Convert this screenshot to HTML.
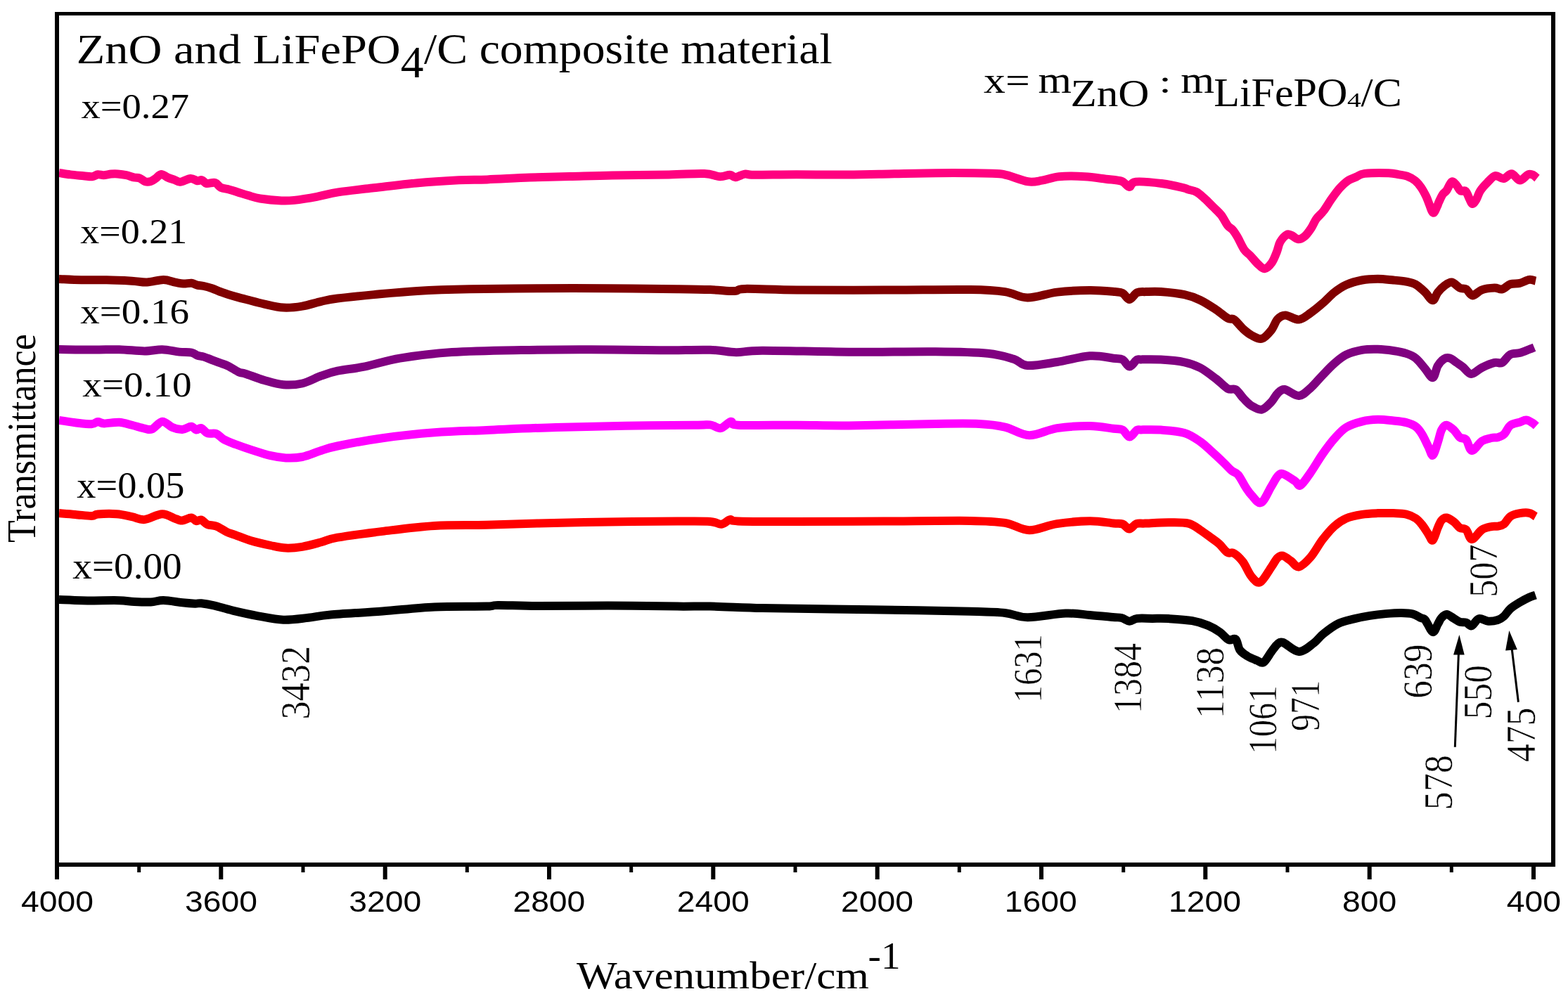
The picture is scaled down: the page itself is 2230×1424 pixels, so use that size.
<!DOCTYPE html>
<html><head><meta charset="utf-8"><title>FTIR spectra</title>
<style>html,body{margin:0;padding:0;background:#fff;}svg{display:block;}</style>
</head><body>
<svg width="2230" height="1424" viewBox="0 0 2230 1424">
<rect width="2230" height="1424" fill="#fff"/>
<path d="M84.0,853.0 C89.3,853.2 107.6,854.0 115.9,854.2 C124.2,854.4 124.8,854.4 133.8,854.4 C142.8,854.4 160.1,853.9 169.7,854.2 C179.3,854.5 183.7,855.6 191.2,856.0 C198.7,856.4 207.6,856.8 214.5,856.5 C221.4,856.2 225.0,853.9 232.5,854.0 C240.0,854.1 251.9,856.5 259.4,857.3 C266.9,858.1 272.8,858.5 277.3,858.7 C281.8,858.9 281.8,857.8 286.3,858.3 C290.8,858.8 296.7,859.7 304.2,861.4 C311.7,863.1 320.6,866.1 331.1,868.6 C341.6,871.1 355.0,874.1 367.0,876.3 C379.0,878.5 390.9,881.3 402.9,881.7 C414.8,882.1 427.5,880.0 438.7,878.8 C449.9,877.6 452.4,876.0 470.0,874.5 C487.6,873.0 519.3,871.4 544.0,869.5 C568.7,867.6 593.3,864.5 618.0,863.4 C642.7,862.2 677.0,863.0 692.0,862.6 C707.0,862.2 695.7,861.0 708.0,860.9 C720.3,860.8 739.9,862.0 766.0,862.1 C792.1,862.2 831.7,861.5 864.6,861.6 C897.5,861.7 939.1,862.4 963.3,862.6 C987.5,862.8 989.9,862.2 1010.0,862.6 C1030.1,863.0 1055.2,864.4 1084.0,865.1 C1112.8,865.8 1145.6,866.1 1182.6,866.6 C1219.6,867.1 1273.1,867.8 1306.0,868.3 C1338.9,868.8 1359.5,869.2 1380.0,869.8 C1400.5,870.4 1415.8,870.6 1429.3,872.0 C1442.8,873.4 1446.9,878.1 1461.3,878.2 C1475.7,878.3 1500.8,873.0 1515.6,872.5 C1530.4,872.0 1538.8,874.1 1550.0,875.0 C1561.2,875.9 1575.1,877.3 1582.6,878.0 C1590.1,878.7 1591.1,878.0 1595.1,879.0 C1599.1,880.0 1602.7,883.6 1606.4,883.8 C1610.1,883.9 1611.7,880.5 1617.1,879.9 C1622.5,879.2 1631.5,879.9 1639.0,879.9 C1646.5,879.9 1652.6,879.5 1662.1,880.1 C1671.5,880.7 1686.3,881.6 1695.7,883.2 C1705.1,884.8 1711.7,887.2 1718.2,889.9 C1724.8,892.6 1730.2,896.0 1735.0,899.4 C1739.8,902.8 1743.6,908.4 1747.3,910.1 C1751.0,911.8 1754.7,907.0 1757.4,909.5 C1760.1,912.0 1760.6,920.8 1763.4,924.8 C1766.2,928.8 1770.2,931.0 1774.2,933.5 C1778.2,936.0 1783.8,938.0 1787.6,939.5 C1791.4,941.0 1793.6,944.3 1797.0,942.3 C1800.4,940.3 1804.7,931.8 1808.0,927.4 C1811.3,923.0 1814.2,918.4 1817.0,916.2 C1819.8,914.0 1819.8,912.2 1824.8,914.0 C1829.8,915.8 1840.0,926.7 1847.3,926.9 C1854.5,927.1 1862.5,919.2 1868.3,915.0 C1874.0,910.8 1876.0,906.5 1881.8,901.9 C1887.6,897.2 1896.0,890.7 1903.3,887.1 C1910.6,883.5 1918.2,882.3 1925.7,880.4 C1933.2,878.5 1940.7,877.1 1948.2,875.9 C1955.7,874.7 1963.1,873.8 1970.6,873.1 C1978.1,872.5 1986.5,871.9 1993.0,872.0 C1999.5,872.1 2005.1,872.4 2009.8,873.6 C2014.5,874.8 2018.2,877.8 2021.0,879.2 C2023.8,880.6 2024.1,878.7 2026.9,882.0 C2029.7,885.3 2034.7,898.0 2037.7,899.0 C2040.7,900.0 2042.8,891.3 2044.8,888.0 C2046.8,884.7 2047.9,881.3 2050.0,879.0 C2052.1,876.7 2054.5,873.9 2057.4,874.0 C2060.3,874.1 2064.2,877.7 2067.3,879.5 C2070.4,881.3 2073.2,883.7 2076.2,884.7 C2079.2,885.7 2082.4,884.7 2085.2,885.6 C2088.0,886.5 2090.0,891.2 2093.0,890.3 C2096.0,889.4 2099.2,881.3 2103.1,880.2 C2107.0,879.1 2112.1,883.5 2116.6,883.8 C2121.1,884.1 2126.3,883.2 2130.0,882.0 C2133.7,880.8 2136.0,879.3 2139.0,876.6 C2142.0,873.9 2144.3,869.2 2148.0,865.9 C2151.7,862.6 2156.9,859.6 2161.4,856.9 C2165.9,854.2 2171.2,851.4 2174.9,849.7 C2178.7,848.0 2182.4,847.1 2183.9,846.6" fill="none" stroke="#000000" stroke-width="12" stroke-linejoin="round" stroke-linecap="butt"/>
<path d="M84.0,730.1 C87.8,730.4 99.2,731.2 106.9,731.9 C114.6,732.5 124.8,734.1 130.2,734.0 C135.6,733.9 133.2,732.0 139.2,731.5 C145.2,731.0 158.0,730.6 166.1,731.2 C174.2,731.8 181.0,733.8 187.6,735.1 C194.2,736.4 198.4,739.8 205.6,739.1 C212.8,738.5 223.2,731.3 230.7,731.2 C238.2,731.1 245.6,736.8 250.4,738.3 C255.2,739.8 255.8,740.8 259.4,740.5 C263.0,740.2 268.6,736.4 271.9,736.5 C275.2,736.6 276.7,740.7 279.1,741.2 C281.5,741.7 283.6,738.8 286.3,739.6 C289.0,740.4 291.6,744.7 295.2,746.2 C298.8,747.7 303.3,746.9 307.8,748.6 C312.3,750.3 317.7,754.5 322.2,756.6 C326.7,758.7 328.7,758.9 334.7,761.1 C340.7,763.3 349.6,767.1 358.0,769.6 C366.4,772.1 376.8,774.3 384.9,776.0 C393.0,777.7 399.0,779.3 406.5,779.6 C414.0,779.9 421.4,779.2 429.8,777.8 C438.2,776.4 448.3,773.5 456.7,771.3 C465.1,769.1 465.4,767.3 480.0,764.7 C494.6,762.1 521.0,758.7 544.0,755.9 C567.0,753.1 593.3,749.5 618.0,748.0 C642.7,746.5 667.3,747.4 692.0,746.8 C716.7,746.2 737.2,745.1 766.0,744.4 C794.8,743.7 831.7,742.9 864.6,742.4 C897.5,741.9 939.1,741.7 963.3,741.6 C987.5,741.5 999.5,741.2 1010.0,741.9 C1020.5,742.6 1021.3,746.2 1026.0,745.8 C1030.7,745.3 1034.5,739.9 1038.4,739.2 C1042.3,738.5 1033.7,740.9 1049.5,741.4 C1065.3,741.9 1098.8,742.1 1133.3,742.1 C1167.8,742.1 1215.5,741.8 1256.6,741.6 C1297.7,741.4 1351.2,740.5 1380.0,740.9 C1408.8,741.3 1415.3,741.7 1429.3,743.9 C1443.3,746.1 1451.5,754.0 1463.8,754.2 C1476.1,754.4 1488.9,747.2 1503.3,745.1 C1517.7,743.0 1536.6,741.4 1550.0,741.3 C1563.4,741.2 1575.8,743.7 1583.6,744.4 C1591.3,745.1 1592.7,744.1 1596.5,745.5 C1600.3,746.9 1603.0,752.6 1606.2,752.6 C1609.5,752.6 1612.3,746.5 1616.0,745.2 C1619.7,743.9 1620.8,744.9 1628.5,744.6 C1636.2,744.3 1651.8,743.3 1662.1,743.3 C1672.4,743.3 1682.6,742.8 1690.1,744.6 C1697.6,746.4 1701.4,750.4 1707.0,754.0 C1712.6,757.6 1719.3,762.8 1723.8,766.0 C1728.2,769.2 1730.0,770.2 1733.7,773.5 C1737.4,776.8 1742.2,783.8 1745.7,786.0 C1749.2,788.2 1751.2,784.8 1754.8,787.0 C1758.4,789.2 1763.4,793.6 1767.6,799.2 C1771.8,804.8 1775.9,815.6 1780.0,820.4 C1784.1,825.2 1787.6,830.5 1792.3,828.2 C1797.0,826.0 1803.9,812.7 1808.0,806.9 C1812.1,801.1 1814.2,796.2 1817.0,793.5 C1819.8,790.8 1821.6,790.0 1824.8,790.7 C1828.0,791.5 1832.2,795.4 1836.0,798.0 C1839.8,800.6 1842.6,807.3 1847.3,806.4 C1852.0,805.5 1858.5,798.8 1864.1,792.4 C1869.7,786.0 1875.3,775.0 1880.9,767.7 C1886.5,760.4 1892.1,753.7 1897.7,748.6 C1903.3,743.5 1908.0,740.2 1914.5,737.4 C1921.0,734.6 1929.5,733.0 1937.0,731.8 C1944.5,730.6 1951.9,730.4 1959.4,730.1 C1966.9,729.8 1975.0,729.9 1981.8,730.1 C1988.6,730.4 1994.7,730.4 2000.0,731.6 C2005.3,732.8 2009.8,734.9 2013.5,737.4 C2017.2,739.9 2019.4,742.7 2022.4,746.4 C2025.4,750.1 2028.9,756.1 2031.4,759.8 C2034.0,763.5 2035.5,770.1 2037.7,768.6 C2039.9,767.1 2042.7,755.6 2044.8,750.9 C2046.9,746.1 2048.1,742.5 2050.2,740.1 C2052.3,737.7 2054.4,736.0 2057.4,736.5 C2060.4,737.0 2065.1,740.4 2068.2,742.8 C2071.3,745.2 2073.4,749.1 2076.2,750.9 C2079.0,752.7 2082.3,750.9 2085.2,753.6 C2088.0,756.3 2089.6,767.2 2093.3,767.2 C2097.0,767.2 2103.0,756.6 2107.6,753.6 C2112.2,750.6 2117.4,749.9 2121.1,749.1 C2124.8,748.3 2127.0,749.2 2130.0,748.6 C2133.0,748.0 2136.0,747.8 2139.0,745.5 C2142.0,743.2 2144.3,737.2 2148.0,734.7 C2151.7,732.2 2156.9,731.0 2161.4,730.2 C2165.9,729.4 2171.2,729.0 2174.9,729.8 C2178.7,730.5 2182.4,733.9 2183.9,734.7" fill="none" stroke="#FF0000" stroke-width="12" stroke-linejoin="round" stroke-linecap="butt"/>
<path d="M84.0,597.9 C87.8,598.5 99.2,600.3 106.9,601.2 C114.6,602.1 124.8,603.5 130.2,603.3 C135.6,603.1 136.2,600.2 139.2,600.1 C142.2,600.0 143.1,602.3 148.2,602.4 C153.3,602.5 163.1,600.4 169.7,600.8 C176.3,601.2 181.6,603.3 187.6,604.8 C193.6,606.3 200.8,608.6 205.6,609.6 C210.4,610.6 212.1,612.1 216.3,610.5 C220.5,608.9 225.9,600.2 230.7,599.7 C235.5,599.2 240.2,605.9 245.0,607.8 C249.8,609.7 254.9,611.1 259.4,610.9 C263.9,610.7 268.6,606.6 271.9,606.7 C275.2,606.8 276.7,611.2 279.1,611.6 C281.5,612.0 283.6,608.3 286.3,609.1 C289.0,609.9 291.6,615.1 295.2,616.4 C298.8,617.7 303.9,615.6 307.8,617.1 C311.7,618.6 314.1,622.7 318.6,625.2 C323.1,627.7 328.1,629.5 334.7,632.0 C341.3,634.5 349.6,637.4 358.0,640.1 C366.4,642.8 376.8,646.3 384.9,648.2 C393.0,650.1 399.0,651.1 406.5,651.4 C414.0,651.7 421.4,651.7 429.8,650.0 C438.2,648.3 448.3,643.6 456.7,641.0 C465.1,638.4 465.4,637.5 480.0,634.5 C494.6,631.5 521.0,626.4 544.0,623.2 C567.0,620.0 593.3,617.2 618.0,615.3 C642.7,613.4 663.2,613.1 692.0,611.9 C720.8,610.7 757.7,608.9 790.6,607.9 C823.5,606.9 856.4,606.2 889.3,605.7 C922.2,605.2 967.9,604.9 988.0,604.7 C1008.1,604.5 1003.9,603.7 1010.0,604.4 C1016.1,605.1 1019.9,609.9 1024.8,609.1 C1029.7,608.3 1035.5,600.4 1039.6,599.7 C1043.7,599.0 1033.9,603.9 1049.5,604.7 C1065.1,605.5 1107.0,604.6 1133.3,604.7 C1159.6,604.8 1174.4,605.7 1207.3,605.4 C1240.2,605.1 1299.8,603.4 1330.6,603.0 C1361.4,602.6 1375.8,602.2 1392.3,603.0 C1408.8,603.8 1417.4,604.9 1429.3,607.6 C1441.2,610.3 1451.5,619.0 1463.8,619.2 C1476.1,619.5 1488.9,611.3 1503.3,609.1 C1517.7,606.9 1536.6,605.9 1550.0,606.0 C1563.4,606.1 1575.8,608.8 1583.6,609.7 C1591.3,610.6 1592.7,609.5 1596.5,611.5 C1600.3,613.5 1603.1,621.4 1606.4,621.5 C1609.7,621.6 1613.8,613.7 1616.5,612.0 C1619.2,610.3 1617.2,611.5 1622.9,611.4 C1628.6,611.3 1640.6,610.9 1650.9,611.6 C1661.2,612.4 1675.2,613.1 1684.5,615.9 C1693.8,618.7 1700.5,623.7 1707.0,628.2 C1713.5,632.7 1718.2,637.8 1723.8,642.8 C1729.4,647.8 1735.9,654.0 1740.6,658.5 C1745.3,663.0 1748.4,666.9 1751.8,669.7 C1755.2,672.5 1757.4,671.3 1760.8,675.3 C1764.2,679.3 1768.8,688.9 1772.0,693.8 C1775.2,698.6 1776.4,700.8 1780.0,704.4 C1783.6,708.0 1788.8,717.1 1793.5,715.1 C1798.2,713.1 1804.1,698.4 1808.0,692.1 C1811.9,685.8 1814.2,680.5 1817.0,677.5 C1819.8,674.5 1820.7,673.1 1824.8,674.2 C1828.9,675.3 1837.6,681.6 1841.7,684.3 C1845.8,687.0 1845.8,692.4 1849.5,690.4 C1853.2,688.4 1858.9,679.4 1864.1,672.0 C1869.3,664.6 1875.3,654.0 1880.9,646.0 C1886.5,638.0 1892.1,630.3 1897.7,624.0 C1903.3,617.7 1908.0,612.1 1914.5,608.0 C1921.0,603.9 1929.5,601.5 1937.0,599.6 C1944.5,597.7 1951.9,597.0 1959.4,596.8 C1966.9,596.6 1975.0,597.8 1981.8,598.5 C1988.6,599.2 1994.7,599.7 2000.0,601.1 C2005.3,602.5 2009.8,604.1 2013.5,606.9 C2017.2,609.7 2019.4,612.9 2022.4,617.7 C2025.4,622.5 2028.9,630.6 2031.4,635.6 C2034.0,640.6 2035.5,648.7 2037.7,647.6 C2039.9,646.5 2042.7,635.3 2044.8,629.3 C2046.9,623.3 2048.1,615.5 2050.2,611.4 C2052.3,607.3 2054.4,604.6 2057.4,604.7 C2060.4,604.9 2065.1,609.4 2068.2,612.3 C2071.3,615.2 2073.4,620.0 2076.2,622.2 C2079.0,624.4 2082.3,622.6 2085.2,625.7 C2088.0,628.8 2089.6,640.7 2093.3,641.0 C2097.0,641.3 2103.0,630.5 2107.6,627.5 C2112.2,624.5 2117.4,623.9 2121.1,623.0 C2124.8,622.1 2127.0,623.1 2130.0,622.2 C2133.0,621.3 2136.0,620.6 2139.0,617.7 C2142.0,614.9 2144.3,608.0 2148.0,605.1 C2151.7,602.2 2157.7,601.9 2161.4,600.6 C2165.1,599.3 2167.4,597.4 2170.4,597.5 C2173.4,597.6 2177.0,600.1 2179.4,601.5 C2181.8,602.9 2183.9,605.2 2184.8,606.0" fill="none" stroke="#FF00FF" stroke-width="12" stroke-linejoin="round" stroke-linecap="butt"/>
<path d="M84.0,497.0 C92.3,497.1 119.5,497.6 133.8,497.6 C148.1,497.6 157.7,496.9 169.7,497.2 C181.7,497.5 195.4,499.4 205.6,499.4 C215.8,499.4 222.5,497.0 230.7,497.2 C238.9,497.4 248.0,499.9 254.9,500.6 C261.9,501.3 268.1,500.8 272.4,501.6 C276.7,502.4 277.6,504.6 280.5,505.6 C283.4,506.6 286.4,506.5 289.9,507.6 C293.4,508.7 297.6,510.6 301.5,512.1 C305.4,513.6 309.3,515.0 313.2,516.4 C317.1,517.8 320.3,518.6 324.8,520.8 C329.3,523.0 335.9,527.7 340.0,529.5 C344.1,531.3 343.1,529.8 349.1,531.7 C355.1,533.6 367.0,538.4 376.0,541.0 C385.0,543.6 393.9,546.5 402.9,547.3 C411.9,548.0 420.8,547.6 429.8,545.5 C438.8,543.4 448.3,537.7 456.7,534.7 C465.1,531.7 469.6,529.9 480.0,527.7 C490.4,525.5 504.5,524.4 519.3,521.4 C534.1,518.4 548.2,513.0 568.7,509.6 C589.2,506.2 613.8,502.9 642.6,501.0 C671.4,499.1 708.4,498.6 741.3,498.0 C774.2,497.4 807.1,497.2 840.0,497.3 C872.9,497.4 910.3,498.2 938.6,498.3 C966.9,498.4 991.9,497.3 1010.0,497.8 C1028.1,498.3 1034.7,501.1 1047.0,501.2 C1059.3,501.3 1057.3,498.8 1084.0,498.7 C1110.7,498.6 1166.2,500.4 1207.3,500.7 C1248.4,500.9 1297.7,499.9 1330.6,500.2 C1363.5,500.5 1386.1,500.9 1404.6,502.7 C1423.1,504.5 1432.1,507.9 1441.6,510.8 C1451.0,513.7 1451.0,519.3 1461.3,520.0 C1471.6,520.7 1488.5,517.3 1503.3,515.0 C1518.1,512.7 1536.6,507.2 1550.0,506.3 C1563.4,505.4 1575.8,508.8 1583.6,509.7 C1591.3,510.6 1592.7,509.5 1596.5,511.5 C1600.3,513.5 1603.1,521.4 1606.4,521.5 C1609.7,521.6 1613.8,513.7 1616.5,512.0 C1619.2,510.3 1617.2,511.5 1622.9,511.4 C1628.6,511.3 1640.6,511.0 1650.9,511.6 C1661.2,512.2 1675.2,513.4 1684.5,515.3 C1693.8,517.2 1699.5,519.3 1707.0,523.2 C1714.5,527.1 1722.9,534.0 1729.4,538.9 C1735.9,543.8 1741.5,550.3 1746.2,552.9 C1750.9,555.5 1753.7,551.9 1757.4,554.2 C1761.1,556.5 1764.8,563.0 1768.6,566.9 C1772.4,570.8 1775.7,574.7 1780.0,577.3 C1784.3,579.9 1789.9,583.5 1794.6,582.6 C1799.3,581.7 1804.3,575.7 1808.0,571.9 C1811.7,568.1 1813.8,562.6 1817.0,559.6 C1820.2,556.6 1822.0,553.4 1827.1,554.0 C1832.1,554.6 1841.1,563.4 1847.3,563.0 C1853.5,562.6 1858.5,556.6 1864.1,551.7 C1869.7,546.8 1875.3,539.6 1880.9,533.8 C1886.5,528.0 1892.1,521.9 1897.7,517.0 C1903.3,512.1 1908.0,507.9 1914.5,504.7 C1921.0,501.5 1929.5,499.2 1937.0,497.9 C1944.5,496.6 1951.9,496.6 1959.4,496.8 C1966.9,497.0 1975.0,498.0 1981.8,499.0 C1988.6,500.0 1994.7,501.1 2000.0,502.9 C2005.3,504.7 2009.0,506.0 2013.5,509.6 C2018.0,513.2 2022.9,520.2 2026.9,524.8 C2030.9,529.4 2034.7,537.9 2037.7,537.2 C2040.7,536.5 2042.1,524.9 2044.8,520.4 C2047.5,515.9 2051.0,512.3 2053.8,510.5 C2056.7,508.7 2058.9,508.7 2061.9,509.6 C2064.9,510.5 2068.6,513.8 2071.7,515.9 C2074.8,518.0 2077.2,519.5 2080.7,522.2 C2084.1,524.9 2087.9,531.9 2092.4,532.0 C2096.9,532.1 2102.1,525.7 2107.6,523.0 C2113.1,520.3 2120.8,517.1 2125.6,515.9 C2130.4,514.7 2132.6,517.9 2136.3,515.9 C2140.0,513.9 2143.8,506.5 2148.0,504.2 C2152.2,501.9 2156.9,503.2 2161.4,502.0 C2165.9,500.8 2171.5,498.3 2174.9,497.0 C2178.3,495.7 2180.8,494.8 2182.0,494.3" fill="none" stroke="#800080" stroke-width="12" stroke-linejoin="round" stroke-linecap="butt"/>
<path d="M84.0,397.0 C89.3,397.2 104.6,398.1 115.9,398.3 C127.2,398.5 139.8,398.1 151.7,398.3 C163.6,398.5 178.0,399.2 187.6,399.7 C197.2,400.2 201.6,401.8 209.1,401.5 C216.6,401.2 225.8,398.0 232.5,398.0 C239.2,398.0 244.3,400.7 249.0,401.6 C253.7,402.5 256.8,403.4 260.7,403.6 C264.6,403.8 269.1,402.4 272.4,402.7 C275.7,403.0 277.6,404.9 280.5,405.6 C283.4,406.3 286.4,406.2 289.9,407.0 C293.4,407.8 297.6,409.0 301.5,410.3 C305.4,411.6 309.3,413.6 313.2,415.0 C317.1,416.4 320.3,417.6 324.8,419.0 C329.3,420.4 335.9,422.3 340.0,423.4 C344.1,424.5 343.1,424.2 349.1,425.7 C355.1,427.2 367.0,430.6 376.0,432.6 C385.0,434.6 393.9,437.1 402.9,437.6 C411.9,438.1 420.8,437.1 429.8,435.6 C438.8,434.1 448.3,430.7 456.7,428.8 C465.1,426.9 467.5,426.1 480.0,424.5 C492.5,422.9 512.8,420.9 531.7,419.1 C550.6,417.3 570.7,415.2 593.3,413.9 C615.9,412.6 638.5,411.8 667.3,411.2 C696.1,410.6 733.1,410.4 766.0,410.2 C798.9,410.0 831.7,410.0 864.6,410.2 C897.5,410.4 939.1,410.9 963.3,411.2 C987.5,411.5 996.5,411.6 1010.0,412.1 C1023.5,412.6 1036.3,414.3 1044.5,414.1 C1052.7,413.9 1044.5,411.2 1059.3,410.9 C1074.1,410.6 1100.4,412.1 1133.3,412.4 C1166.2,412.7 1215.5,412.7 1256.6,412.6 C1297.7,412.6 1351.2,411.7 1380.0,412.1 C1408.8,412.5 1415.8,413.2 1429.3,415.1 C1442.8,417.0 1449.0,423.4 1461.3,423.5 C1473.6,423.6 1488.5,417.4 1503.3,415.6 C1518.1,413.9 1536.3,413.1 1550.0,413.0 C1563.7,412.9 1577.9,414.4 1585.7,415.1 C1593.5,415.8 1593.2,415.3 1596.7,417.1 C1600.2,418.9 1603.0,426.1 1606.4,426.0 C1609.8,425.9 1613.2,418.1 1617.1,416.3 C1621.0,414.5 1624.0,415.3 1629.6,415.1 C1635.2,414.9 1641.8,414.3 1650.9,415.0 C1660.1,415.7 1675.2,417.2 1684.5,419.2 C1693.8,421.2 1699.5,423.4 1707.0,427.0 C1714.5,430.6 1722.9,436.2 1729.4,440.5 C1735.9,444.8 1741.9,450.4 1746.2,452.8 C1750.5,455.2 1751.5,452.1 1755.2,454.7 C1758.9,457.3 1764.5,464.8 1768.6,468.5 C1772.7,472.2 1775.7,474.8 1780.0,477.0 C1784.3,479.2 1789.9,483.0 1794.6,481.8 C1799.3,480.6 1804.3,474.3 1808.0,469.7 C1811.7,465.1 1813.6,457.6 1817.0,454.0 C1820.4,450.4 1823.2,448.3 1828.2,448.4 C1833.2,448.5 1841.3,455.2 1847.3,454.6 C1853.3,454.0 1858.5,448.8 1864.1,445.0 C1869.7,441.2 1875.3,436.5 1880.9,431.6 C1886.5,426.8 1892.1,420.3 1897.7,415.9 C1903.3,411.5 1908.0,408.1 1914.5,405.2 C1921.0,402.3 1929.5,399.9 1937.0,398.5 C1944.5,397.1 1951.9,396.8 1959.4,396.8 C1966.9,396.8 1975.0,397.9 1981.8,398.5 C1988.6,399.1 1994.7,399.6 2000.0,400.6 C2005.3,401.6 2009.0,402.1 2013.5,404.7 C2018.0,407.2 2022.9,412.1 2026.9,415.9 C2030.9,419.7 2034.7,427.3 2037.7,427.3 C2040.7,427.3 2042.1,419.3 2044.8,415.9 C2047.5,412.5 2050.5,409.3 2053.8,406.9 C2057.1,404.5 2060.9,401.1 2064.6,401.5 C2068.3,401.9 2072.8,408.0 2076.2,409.6 C2079.6,411.2 2082.2,409.6 2085.2,411.4 C2088.2,413.2 2090.5,420.2 2094.2,420.4 C2097.9,420.5 2102.4,414.1 2107.6,412.3 C2112.8,410.5 2120.8,409.8 2125.6,409.6 C2130.4,409.5 2132.6,412.3 2136.3,411.4 C2140.0,410.5 2143.8,405.6 2148.0,404.2 C2152.2,402.8 2156.9,403.9 2161.4,402.9 C2165.9,401.8 2171.1,398.4 2174.9,397.9 C2178.7,397.4 2182.5,399.4 2184.0,399.7" fill="none" stroke="#800000" stroke-width="12" stroke-linejoin="round" stroke-linecap="butt"/>
<path d="M84.0,245.9 C86.7,246.3 94.4,247.7 100.2,248.4 C106.0,249.1 113.8,249.7 119.0,250.2 C124.2,250.7 127.7,251.5 131.1,251.2 C134.5,250.9 136.5,248.6 139.2,248.3 C141.9,248.0 144.2,249.3 147.3,249.2 C150.4,249.1 154.7,247.9 158.0,247.6 C161.3,247.3 163.8,247.2 167.4,247.5 C171.0,247.8 175.8,248.4 179.6,249.2 C183.4,250.0 187.2,251.6 190.3,252.3 C193.4,253.0 195.7,252.3 198.4,253.3 C201.1,254.3 203.8,257.4 206.5,258.2 C209.2,259.0 212.0,258.7 214.5,258.0 C217.0,257.3 218.8,255.6 221.3,253.9 C223.8,252.2 226.4,248.1 229.3,247.9 C232.2,247.7 235.7,251.3 238.8,252.6 C242.0,253.9 245.3,254.9 248.2,255.9 C251.1,256.9 252.4,259.1 256.2,258.8 C260.0,258.5 266.9,254.2 271.0,253.9 C275.1,253.6 277.8,256.8 280.5,257.2 C283.2,257.6 285.0,255.6 287.2,256.2 C289.4,256.8 290.8,260.4 293.9,261.0 C297.0,261.6 302.6,259.1 306.0,260.0 C309.4,260.9 310.6,265.1 314.0,266.7 C317.4,268.3 322.1,268.6 326.2,269.7 C330.2,270.8 333.8,272.0 338.3,273.4 C342.8,274.8 347.8,276.6 353.1,278.1 C358.4,279.6 362.1,281.3 370.0,282.5 C377.9,283.7 392.2,285.1 400.3,285.5 C408.4,285.9 410.0,285.8 418.4,284.9 C426.8,283.9 440.3,281.7 450.7,279.8 C461.1,277.9 467.6,275.5 481.0,273.4 C494.4,271.3 512.9,269.4 531.4,267.3 C549.9,265.2 571.8,262.4 592.0,260.5 C612.2,258.6 635.7,257.1 652.5,256.2 C669.3,255.3 676.0,256.0 692.8,255.4 C709.6,254.8 733.9,253.3 753.4,252.6 C772.9,251.9 790.5,251.5 810.0,251.0 C829.5,250.5 847.0,249.8 870.5,249.4 C894.0,249.0 929.3,248.8 951.2,248.4 C973.1,248.0 989.6,246.5 1001.7,247.0 C1013.8,247.5 1017.9,250.9 1023.9,251.2 C1030.0,251.5 1034.3,248.6 1038.0,248.8 C1041.7,249.0 1042.5,252.4 1046.0,252.2 C1049.5,252.0 1054.8,248.2 1059.2,247.6 C1063.6,247.0 1060.0,248.7 1072.3,248.8 C1084.6,248.9 1112.6,248.2 1132.8,248.2 C1153.0,248.2 1173.9,248.7 1193.4,248.6 C1212.9,248.5 1227.1,248.2 1250.0,247.8 C1272.9,247.4 1303.8,246.4 1330.7,246.2 C1357.6,246.0 1394.6,246.3 1411.4,246.8 C1428.2,247.3 1423.2,247.3 1431.6,249.2 C1440.0,251.1 1453.5,257.1 1461.9,258.3 C1470.3,259.6 1474.6,257.9 1482.0,256.7 C1489.4,255.5 1496.2,252.1 1506.3,251.2 C1516.4,250.3 1531.5,250.6 1542.6,251.2 C1553.7,251.8 1564.0,253.6 1572.8,254.7 C1581.5,255.8 1589.5,255.9 1595.1,257.8 C1600.6,259.7 1602.8,265.9 1606.1,266.0 C1609.4,266.1 1607.3,259.4 1615.2,258.6 C1623.1,257.8 1642.2,259.8 1653.6,261.3 C1665.0,262.8 1677.7,266.0 1683.8,267.4 C1689.9,268.8 1687.0,268.7 1690.0,269.6 C1693.0,270.6 1697.8,271.0 1701.7,273.1 C1705.6,275.2 1709.4,279.0 1713.3,282.5 C1717.2,286.0 1721.1,290.2 1725.0,294.1 C1728.9,298.0 1733.1,301.3 1736.6,305.8 C1740.1,310.3 1743.3,317.4 1746.0,320.9 C1748.7,324.4 1750.7,324.1 1753.0,326.8 C1755.3,329.5 1757.3,332.6 1760.0,337.3 C1762.7,342.0 1766.2,350.3 1769.3,354.8 C1772.4,359.3 1775.3,360.6 1778.6,364.1 C1781.9,367.6 1785.8,372.7 1789.1,375.7 C1792.4,378.7 1795.1,382.6 1798.4,382.2 C1801.7,381.8 1806.0,377.4 1808.9,373.4 C1811.8,369.4 1814.0,363.0 1815.9,358.2 C1817.9,353.4 1818.2,348.4 1820.6,344.3 C1822.9,340.2 1827.3,335.4 1830.0,333.8 C1832.7,332.2 1834.2,333.8 1836.9,334.9 C1839.6,336.0 1843.1,340.0 1846.2,340.2 C1849.3,340.4 1852.5,338.7 1855.6,336.1 C1858.7,333.5 1862.2,328.5 1864.9,324.4 C1867.6,320.3 1869.0,315.7 1871.9,311.6 C1874.8,307.5 1878.7,304.9 1882.4,300.0 C1886.1,295.1 1890.1,287.9 1894.0,282.5 C1897.9,277.1 1901.8,271.6 1905.7,267.3 C1909.6,263.0 1913.5,259.4 1917.4,256.8 C1921.3,254.2 1925.1,253.2 1929.0,251.6 C1932.9,249.9 1933.0,247.8 1940.7,246.9 C1948.4,246.0 1966.8,245.9 1975.0,246.2 C1983.2,246.4 1985.6,247.7 1990.0,248.4 C1994.4,249.1 1997.5,249.2 2001.2,250.6 C2005.0,252.0 2009.2,254.3 2012.5,256.9 C2015.8,259.5 2018.3,262.7 2020.9,266.4 C2023.5,270.1 2026.2,275.3 2028.2,279.3 C2030.2,283.3 2031.0,286.7 2032.7,290.6 C2034.4,294.5 2036.4,302.3 2038.3,302.8 C2040.2,303.3 2042.6,295.9 2043.9,293.4 C2045.2,290.9 2044.9,290.6 2046.2,287.8 C2047.5,285.0 2049.9,279.3 2051.8,276.5 C2053.7,273.7 2055.2,273.9 2057.4,270.9 C2059.6,267.9 2062.3,259.7 2064.7,258.5 C2067.0,257.3 2069.4,261.4 2071.5,263.6 C2073.6,265.8 2074.9,270.1 2077.1,271.5 C2079.2,272.9 2082.2,270.0 2084.4,272.0 C2086.6,274.0 2088.4,280.3 2090.0,283.3 C2091.6,286.3 2092.4,289.9 2094.0,290.0 C2095.6,290.1 2097.7,286.9 2099.6,283.8 C2101.5,280.7 2102.6,275.5 2105.2,271.5 C2107.8,267.5 2111.4,263.6 2115.0,260.0 C2118.6,256.4 2122.6,251.0 2126.5,250.0 C2130.4,249.0 2134.3,254.6 2138.2,254.1 C2142.1,253.6 2146.0,246.8 2149.9,247.2 C2153.8,247.6 2157.6,256.3 2161.5,256.5 C2165.4,256.7 2170.0,249.6 2173.2,248.3 C2176.4,247.1 2178.4,248.1 2180.5,249.0 C2182.6,249.9 2185.1,252.8 2186.0,253.5" fill="none" stroke="#FF0080" stroke-width="12" stroke-linejoin="round" stroke-linecap="butt"/>
<rect x="78" y="17" width="6" height="1234" fill="#000"/>
<rect x="2206" y="17" width="6" height="1216" fill="#000"/>
<rect x="78" y="17" width="2134" height="5" fill="#000"/>
<rect x="78" y="1227" width="2134" height="6" fill="#000"/>
<rect x="311.3" y="1233" width="6" height="18" fill="#000"/>
<rect x="544.7" y="1233" width="6" height="18" fill="#000"/>
<rect x="778.0" y="1233" width="6" height="18" fill="#000"/>
<rect x="1011.3" y="1233" width="6" height="18" fill="#000"/>
<rect x="1244.7" y="1233" width="6" height="18" fill="#000"/>
<rect x="1478.0" y="1233" width="6" height="18" fill="#000"/>
<rect x="1711.3" y="1233" width="6" height="18" fill="#000"/>
<rect x="1944.7" y="1233" width="6" height="18" fill="#000"/>
<rect x="2178.0" y="1233" width="6" height="18" fill="#000"/>
<rect x="195.2" y="1233" width="5" height="8" fill="#000"/>
<rect x="428.5" y="1233" width="5" height="8" fill="#000"/>
<rect x="661.8" y="1233" width="5" height="8" fill="#000"/>
<rect x="895.2" y="1233" width="5" height="8" fill="#000"/>
<rect x="1128.5" y="1233" width="5" height="8" fill="#000"/>
<rect x="1361.8" y="1233" width="5" height="8" fill="#000"/>
<rect x="1595.2" y="1233" width="5" height="8" fill="#000"/>
<rect x="1828.5" y="1233" width="5" height="8" fill="#000"/>
<rect x="2061.8" y="1233" width="5" height="8" fill="#000"/>
<line x1="2069.3" y1="1062.8" x2="2074.6" y2="925" stroke="#000" stroke-width="3"/>
<polygon points="2075.4,903.1 2067.1,931.6 2082.7,931.6" fill="#000"/>
<line x1="2159.4" y1="998.7" x2="2149.8" y2="920" stroke="#000" stroke-width="3"/>
<polygon points="2146.3,896.9 2141.1,925.5 2157.8,924" fill="#000"/>
<text transform="matrix(0.6642 0 0 0.5915 108.68 89.62)" font-family="'Liberation Serif', 'Times New Roman', serif" font-size="100">ZnO and LiFePO</text>
<text transform="matrix(0.6543 0 0 0.6308 569.69 109.80)" font-family="'Liberation Serif', 'Times New Roman', serif" font-size="100">4</text>
<text transform="matrix(0.6577 0 0 0.6100 603.10 89.79)" font-family="'Liberation Serif', 'Times New Roman', serif" font-size="100">/C composite material</text>
<text transform="matrix(0.6168 0 0 0.5239 1399.08 132.30)" font-family="'Liberation Serif', 'Times New Roman', serif" font-size="100">x=</text>
<text transform="matrix(0.6095 0 0 0.5511 1476.38 132.30)" font-family="'Liberation Serif', 'Times New Roman', serif" font-size="100">m</text>
<text transform="matrix(0.6115 0 0 0.5537 1522.44 151.19)" font-family="'Liberation Serif', 'Times New Roman', serif" font-size="100">ZnO</text>
<text transform="matrix(0.6333 0 0 0.4542 1648.33 132.35)" font-family="'Liberation Serif', 'Times New Roman', serif" font-size="100">:</text>
<text transform="matrix(0.6149 0 0 0.5426 1679.17 132.00)" font-family="'Liberation Serif', 'Times New Roman', serif" font-size="100">m</text>
<text transform="matrix(0.6006 0 0 0.5731 1726.20 151.25)" font-family="'Liberation Serif', 'Times New Roman', serif" font-size="100">LiFePO</text>
<text transform="matrix(0.3935 0 0 0.2846 1916.01 151.70)" font-family="'Liberation Serif', 'Times New Roman', serif" font-size="100">4</text>
<text transform="matrix(0.6157 0 0 0.5731 1935.60 151.25)" font-family="'Liberation Serif', 'Times New Roman', serif" font-size="100">/C</text>
<text transform="matrix(0.5457 0 0 0.5104 115.45 168.28)" font-family="'Liberation Serif', 'Times New Roman', serif" font-size="100">x=0.27</text>
<text transform="matrix(0.5401 0 0 0.5015 114.26 346.10)" font-family="'Liberation Serif', 'Times New Roman', serif" font-size="100">x=0.21</text>
<text transform="matrix(0.5505 0 0 0.5044 114.25 460.19)" font-family="'Liberation Serif', 'Times New Roman', serif" font-size="100">x=0.16</text>
<text transform="matrix(0.5523 0 0 0.5029 117.35 564.19)" font-family="'Liberation Serif', 'Times New Roman', serif" font-size="100">x=0.10</text>
<text transform="matrix(0.5437 0 0 0.5224 109.36 707.86)" font-family="'Liberation Serif', 'Times New Roman', serif" font-size="100">x=0.05</text>
<text transform="matrix(0.5527 0 0 0.5224 103.25 822.86)" font-family="'Liberation Serif', 'Times New Roman', serif" font-size="100">x=0.00</text>
<text transform="matrix(0 -0.5222 0.5742 0 50.33 771.94)" font-family="'Liberation Serif', 'Times New Roman', serif" font-size="100">Transmittance</text>
<text transform="matrix(0.6113 0 0 0.5521 819.90 1405.90)" font-family="'Liberation Serif', 'Times New Roman', serif" font-size="100">Wavenumber/cm</text>
<text transform="matrix(0.5521 0 0 0.5561 1234.59 1378.40)" font-family="'Liberation Serif', 'Times New Roman', serif" font-size="100">-1</text>
<text transform="matrix(0 -0.5243 0.5955 0 439.50 1023.62)" font-family="'Liberation Serif', 'Times New Roman', serif" font-size="100" stroke="#fff" stroke-width="1.0">3432</text>
<text transform="matrix(0 -0.4865 0.5779 0 1480.94 999.38)" font-family="'Liberation Serif', 'Times New Roman', serif" font-size="100" stroke="#fff" stroke-width="1.0">1631</text>
<text transform="matrix(0 -0.5016 0.5794 0 1622.94 1015.11)" font-family="'Liberation Serif', 'Times New Roman', serif" font-size="100" stroke="#fff" stroke-width="1.0">1384</text>
<text transform="matrix(0 -0.5158 0.5706 0 1739.76 1021.94)" font-family="'Liberation Serif', 'Times New Roman', serif" font-size="100" stroke="#fff" stroke-width="1.0">1138</text>
<text transform="matrix(0 -0.4859 0.5750 0 1814.95 1072.47)" font-family="'Liberation Serif', 'Times New Roman', serif" font-size="100" stroke="#fff" stroke-width="1.0">1061</text>
<text transform="matrix(0 -0.4809 0.5836 0 1876.42 1040.04)" font-family="'Liberation Serif', 'Times New Roman', serif" font-size="100" stroke="#fff" stroke-width="1.0">971</text>
<text transform="matrix(0 -0.5162 0.5910 0 2036.12 993.86)" font-family="'Liberation Serif', 'Times New Roman', serif" font-size="100" stroke="#fff" stroke-width="1.0">639</text>
<text transform="matrix(0 -0.5214 0.5746 0 2065.25 1152.13)" font-family="'Liberation Serif', 'Times New Roman', serif" font-size="100" stroke="#fff" stroke-width="1.0">578</text>
<text transform="matrix(0 -0.5150 0.5731 0 2120.65 1023.19)" font-family="'Liberation Serif', 'Times New Roman', serif" font-size="100" stroke="#fff" stroke-width="1.0">550</text>
<text transform="matrix(0 -0.5021 0.5776 0 2128.84 849.81)" font-family="'Liberation Serif', 'Times New Roman', serif" font-size="100" stroke="#fff" stroke-width="1.0">507</text>
<text transform="matrix(0 -0.5167 0.5955 0 2183.20 1084.03)" font-family="'Liberation Serif', 'Times New Roman', serif" font-size="100" stroke="#fff" stroke-width="1.0">475</text>
<text transform="matrix(0.4630 0 0 0.4211 30.07 1297.38)" font-family="'Liberation Sans', Arial, sans-serif" font-size="100">4000</text>
<text transform="matrix(0.4630 0 0 0.4211 262.94 1297.38)" font-family="'Liberation Sans', Arial, sans-serif" font-size="100">3600</text>
<text transform="matrix(0.4630 0 0 0.4211 496.28 1297.38)" font-family="'Liberation Sans', Arial, sans-serif" font-size="100">3200</text>
<text transform="matrix(0.4630 0 0 0.4211 729.38 1297.38)" font-family="'Liberation Sans', Arial, sans-serif" font-size="100">2800</text>
<text transform="matrix(0.4630 0 0 0.4211 962.71 1297.38)" font-family="'Liberation Sans', Arial, sans-serif" font-size="100">2400</text>
<text transform="matrix(0.4630 0 0 0.4211 1196.05 1297.38)" font-family="'Liberation Sans', Arial, sans-serif" font-size="100">2000</text>
<text transform="matrix(0.4630 0 0 0.4211 1428.69 1297.38)" font-family="'Liberation Sans', Arial, sans-serif" font-size="100">1600</text>
<text transform="matrix(0.4630 0 0 0.4211 1662.02 1297.38)" font-family="'Liberation Sans', Arial, sans-serif" font-size="100">1200</text>
<text transform="matrix(0.4630 0 0 0.4211 1909.01 1297.38)" font-family="'Liberation Sans', Arial, sans-serif" font-size="100">800</text>
<text transform="matrix(0.4630 0 0 0.4211 2142.81 1297.38)" font-family="'Liberation Sans', Arial, sans-serif" font-size="100">400</text>
</svg>
</body></html>
